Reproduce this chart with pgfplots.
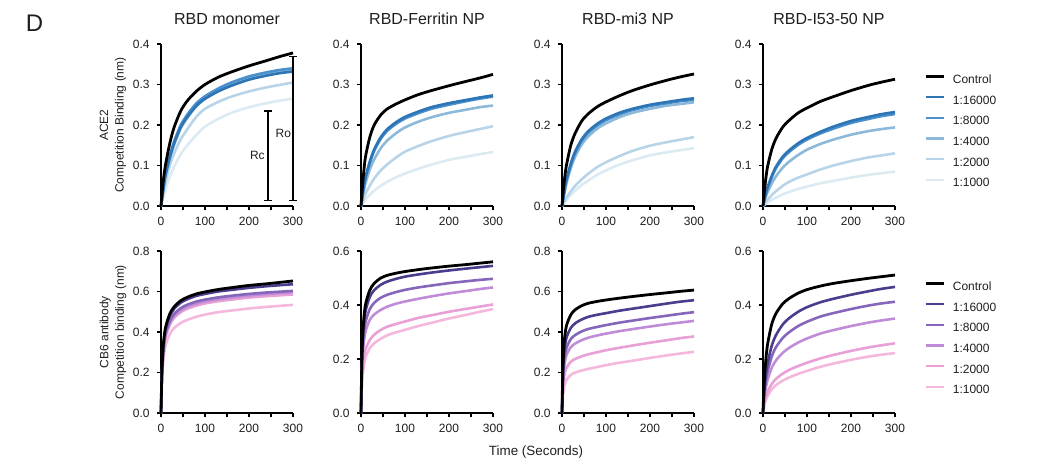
\documentclass[border=0pt]{standalone}
\usepackage{pgfplots}
\pgfplotsset{compat=1.18}
\usepackage{pgfplotstable}
\usepackage{fontspec}
\setmainfont{Liberation Sans}
\usetikzlibrary{arrows.meta}

\definecolor{bA}{RGB}{46,117,182}
\definecolor{bB}{RGB}{74,144,204}
\definecolor{bC}{RGB}{140,184,218}
\definecolor{bD}{RGB}{184,212,232}
\definecolor{bE}{RGB}{220,234,242}
\definecolor{pA}{RGB}{76,60,142}
\definecolor{pB}{RGB}{134,102,186}
\definecolor{pC}{RGB}{192,140,216}
\definecolor{pD}{RGB}{232,160,214}
\definecolor{pE}{RGB}{244,184,220}
\definecolor{txt}{RGB}{30,30,30}

% columns: c=Control a=1:16000 b=1:8000 d=1:4000 e=1:2000 f=1:1000
\pgfplotstableread{
t c a b d e f
0 0 0 0 0 0 0
2 0.025 0.016 0.017 0.015 0.012 0.008
5 0.060 0.040 0.042 0.038 0.030 0.020
10 0.100 0.075 0.078 0.072 0.058 0.040
20 0.155 0.120 0.124 0.117 0.100 0.072
30 0.195 0.155 0.160 0.152 0.130 0.098
45 0.235 0.195 0.200 0.192 0.165 0.128
60 0.260 0.220 0.226 0.218 0.190 0.150
80 0.283 0.247 0.253 0.246 0.220 0.175
100 0.300 0.265 0.271 0.264 0.240 0.196
130 0.318 0.283 0.290 0.284 0.257 0.215
160 0.331 0.297 0.305 0.299 0.270 0.230
200 0.346 0.312 0.320 0.315 0.283 0.244
240 0.359 0.322 0.330 0.326 0.293 0.254
270 0.369 0.328 0.336 0.332 0.299 0.260
300 0.378 0.332 0.340 0.336 0.305 0.265
}\tAa
\pgfplotstableread{
t c a b d e f
0 0 0 0 0 0 0
2 0.030 0.016 0.015 0.012 0.006 0.003
5 0.070 0.040 0.038 0.030 0.015 0.008
10 0.120 0.070 0.067 0.055 0.030 0.016
20 0.170 0.110 0.106 0.090 0.050 0.028
30 0.200 0.140 0.136 0.115 0.068 0.038
45 0.225 0.170 0.166 0.143 0.088 0.050
60 0.240 0.190 0.186 0.162 0.103 0.060
80 0.252 0.207 0.203 0.180 0.120 0.071
100 0.262 0.220 0.216 0.194 0.134 0.080
130 0.275 0.233 0.229 0.208 0.148 0.092
160 0.285 0.244 0.240 0.219 0.160 0.102
200 0.297 0.254 0.250 0.230 0.173 0.114
240 0.308 0.262 0.259 0.238 0.183 0.122
270 0.316 0.268 0.265 0.244 0.190 0.128
300 0.325 0.273 0.270 0.248 0.197 0.133
}\tAb
\pgfplotstableread{
t c a b d e f
0 0 0 0 0 0 0
2 0.025 0.014 0.013 0.011 0.004 0.003
5 0.060 0.035 0.033 0.028 0.010 0.007
10 0.100 0.065 0.062 0.055 0.020 0.015
20 0.150 0.105 0.101 0.093 0.036 0.027
30 0.180 0.135 0.131 0.122 0.050 0.038
45 0.210 0.165 0.161 0.152 0.066 0.052
60 0.228 0.185 0.181 0.172 0.080 0.063
80 0.245 0.203 0.199 0.191 0.096 0.077
100 0.257 0.216 0.212 0.204 0.108 0.088
130 0.272 0.230 0.226 0.219 0.123 0.102
160 0.285 0.240 0.237 0.230 0.136 0.113
200 0.299 0.250 0.247 0.240 0.149 0.125
240 0.311 0.257 0.254 0.248 0.158 0.133
270 0.319 0.262 0.259 0.252 0.164 0.138
300 0.326 0.266 0.262 0.256 0.170 0.143
}\tAc
\pgfplotstableread{
t c a b d e f
0 0 0 0 0 0 0
2 0.022 0.010 0.009 0.007 0.003 0.002
5 0.055 0.025 0.023 0.018 0.008 0.004
10 0.095 0.045 0.042 0.033 0.015 0.008
20 0.140 0.075 0.071 0.056 0.027 0.015
30 0.168 0.098 0.094 0.074 0.037 0.021
45 0.195 0.122 0.118 0.095 0.050 0.029
60 0.212 0.138 0.134 0.110 0.060 0.035
80 0.230 0.155 0.151 0.126 0.070 0.042
100 0.242 0.168 0.164 0.139 0.078 0.048
130 0.258 0.183 0.179 0.153 0.090 0.056
160 0.270 0.196 0.191 0.164 0.100 0.062
200 0.285 0.210 0.205 0.176 0.111 0.070
240 0.298 0.220 0.215 0.185 0.120 0.077
270 0.306 0.227 0.222 0.190 0.125 0.081
300 0.313 0.232 0.227 0.194 0.130 0.085
}\tAd
\pgfplotstableread{
t c a b d e f
0 0 0 0 0 0 0
2 0.200 0.190 0.180 0.175 0.170 0.150
5 0.330 0.320 0.300 0.290 0.280 0.250
10 0.420 0.410 0.390 0.380 0.370 0.330
20 0.490 0.480 0.455 0.445 0.435 0.390
30 0.525 0.515 0.490 0.480 0.470 0.420
45 0.555 0.545 0.518 0.508 0.498 0.445
60 0.572 0.562 0.535 0.525 0.515 0.460
80 0.588 0.578 0.550 0.540 0.530 0.475
100 0.598 0.588 0.560 0.551 0.541 0.486
130 0.610 0.600 0.571 0.562 0.552 0.498
160 0.619 0.608 0.579 0.570 0.560 0.506
200 0.630 0.618 0.588 0.580 0.570 0.516
240 0.638 0.626 0.595 0.587 0.577 0.524
270 0.645 0.631 0.599 0.592 0.581 0.529
300 0.652 0.636 0.603 0.596 0.585 0.534
}\tBa
\pgfplotstableread{
t c a b d e f
0 0 0 0 0 0 0
2 0.200 0.190 0.170 0.150 0.120 0.100
5 0.320 0.300 0.270 0.240 0.190 0.160
10 0.400 0.375 0.335 0.300 0.235 0.205
20 0.455 0.430 0.385 0.345 0.270 0.240
30 0.480 0.455 0.408 0.365 0.290 0.258
45 0.500 0.475 0.427 0.382 0.308 0.275
60 0.510 0.487 0.438 0.394 0.320 0.288
80 0.518 0.497 0.448 0.405 0.330 0.299
100 0.524 0.505 0.456 0.413 0.339 0.308
130 0.531 0.513 0.465 0.423 0.352 0.322
160 0.537 0.520 0.472 0.432 0.362 0.334
200 0.544 0.528 0.481 0.443 0.375 0.350
240 0.550 0.535 0.488 0.452 0.386 0.364
270 0.555 0.540 0.493 0.459 0.394 0.375
300 0.560 0.545 0.497 0.465 0.402 0.385
}\tBb
\pgfplotstableread{
t c a b d e f
0 0 0 0 0 0 0
2 0.220 0.190 0.160 0.140 0.110 0.080
5 0.350 0.300 0.260 0.230 0.180 0.130
10 0.430 0.370 0.320 0.285 0.222 0.163
20 0.485 0.420 0.365 0.325 0.253 0.188
30 0.510 0.443 0.385 0.343 0.267 0.200
45 0.530 0.462 0.403 0.360 0.280 0.210
60 0.542 0.475 0.415 0.372 0.290 0.218
80 0.551 0.485 0.425 0.383 0.300 0.227
100 0.558 0.493 0.434 0.392 0.310 0.236
130 0.567 0.505 0.446 0.404 0.322 0.248
160 0.575 0.515 0.456 0.414 0.333 0.258
200 0.585 0.528 0.469 0.427 0.347 0.272
240 0.594 0.541 0.481 0.439 0.360 0.285
270 0.601 0.550 0.490 0.447 0.370 0.294
300 0.607 0.557 0.498 0.455 0.378 0.302
}\tBc
\pgfplotstableread{
t c a b d e f
0 0 0 0 0 0 0
2 0.090 0.060 0.050 0.040 0.025 0.020
5 0.170 0.120 0.100 0.080 0.050 0.040
10 0.250 0.180 0.150 0.120 0.077 0.062
20 0.330 0.250 0.210 0.168 0.108 0.088
30 0.370 0.290 0.245 0.196 0.127 0.104
45 0.405 0.328 0.278 0.223 0.146 0.120
60 0.425 0.352 0.300 0.242 0.160 0.132
80 0.444 0.375 0.322 0.261 0.174 0.145
100 0.457 0.392 0.338 0.276 0.186 0.156
130 0.470 0.410 0.357 0.294 0.202 0.171
160 0.480 0.423 0.370 0.307 0.215 0.183
200 0.490 0.438 0.385 0.322 0.230 0.197
240 0.499 0.451 0.398 0.335 0.243 0.209
270 0.505 0.460 0.406 0.343 0.251 0.216
300 0.511 0.467 0.412 0.350 0.258 0.222
}\tBd

\pgfplotsset{
  panel/.style={
    scale only axis, width=66pt, height=81pt,
    xmin=0, xmax=300, ymin=0,
    axis lines*=left,
    axis line style={line width=1pt, black},
    xtick={0,100,200,300}, minor xtick={50,150,250},
    tick align=outside,
    major tick length=2.2pt, minor tick length=2.2pt,
    tick style={black, line width=0.75pt},
    tick label style={font=\fontsize{6}{7}\selectfont, text=txt},
    /pgf/number format/assume math mode=true,
    y tick label style={/pgf/number format/fixed, /pgf/number format/fixed zerofill, /pgf/number format/precision=1},
    scaled y ticks=false,
    clip=false,
    title style={font=\fontsize{8}{9}\selectfont, text=txt, yshift=0pt},
  },
  toprow/.style={panel, ymax=0.4, ytick={0,0.1,0.2,0.3,0.4}},
  botrow/.style={panel, ytick={0,0.2,0.4,0.6,0.8}},
  curve/.style={line width=1.3pt, smooth, tension=0.45, forget plot},
  lgd/.style={
    legend style={draw=none, fill=none, at={(1.22,0.815)}, anchor=north west,
      inner sep=0pt, font=\fontsize{6}{7}\selectfont, text=txt,
      row sep=4.35pt, column sep=4pt,
      nodes={inner sep=0pt, text height=4.5pt, text depth=1.5pt}},
    legend cell align=left,
    legend image code/.code={\draw[##1, line width=1.2pt] (0pt,2pt) -- (9pt,2pt);},
  },
}

\newcommand{\bluecurves}[1]{%
  \addplot[curve, bE] table[x=t,y=f]{#1};
  \addplot[curve, bD] table[x=t,y=e]{#1};
  \addplot[curve, bC] table[x=t,y=d]{#1};
  \addplot[curve, bB] table[x=t,y=b]{#1};
  \addplot[curve, bA] table[x=t,y=a]{#1};
  \addplot[curve, black, line width=1.4pt] table[x=t,y=c]{#1};
}
\newcommand{\purplecurves}[1]{%
  \addplot[curve, pE] table[x=t,y=f]{#1};
  \addplot[curve, pD] table[x=t,y=e]{#1};
  \addplot[curve, pC] table[x=t,y=d]{#1};
  \addplot[curve, pB] table[x=t,y=b]{#1};
  \addplot[curve, pA] table[x=t,y=a]{#1};
  \addplot[curve, black, line width=1.4pt] table[x=t,y=c]{#1};
}

\begin{document}
\begin{tikzpicture}
\path[use as bounding box] (0,0) rectangle (528.5pt,231pt);

% ---- top row (ACE2) ----
\begin{axis}[toprow, at={(80.5pt,128pt)}, anchor=south west, title={RBD monomer}]
  \bluecurves{\tAa}
  \addplot[black, line width=0.6pt, forget plot, arrows={Bar[width=4pt,line width=0.6pt]-Bar[width=4pt,line width=0.6pt]}] coordinates {(243,0.012) (243,0.236)};
  \addplot[black, line width=0.6pt, forget plot, arrows={Bar[width=4pt,line width=0.6pt]-Bar[width=4pt,line width=0.6pt]}] coordinates {(300,0.012) (300,0.370)};
  \node[font=\fontsize{6}{7}\selectfont, text=txt] at (axis cs:219,0.124) {Rc};
  \node[font=\fontsize{6}{7}\selectfont, text=txt] at (axis cs:278,0.180) {Ro};
\end{axis}
\begin{axis}[toprow, at={(180.5pt,128pt)}, anchor=south west, title={RBD-Ferritin NP}]
  \bluecurves{\tAb}
\end{axis}
\begin{axis}[toprow, at={(281pt,128pt)}, anchor=south west, title={RBD-mi3 NP}]
  \bluecurves{\tAc}
\end{axis}
\begin{axis}[toprow, lgd, at={(381.5pt,128pt)}, anchor=south west, title={RBD-I53-50 NP}]
  \addlegendimage{black}\addlegendentry{Control}
  \addlegendimage{bA}\addlegendentry{1:16000}
  \addlegendimage{bB}\addlegendentry{1:8000}
  \addlegendimage{bC}\addlegendentry{1:4000}
  \addlegendimage{bD}\addlegendentry{1:2000}
  \addlegendimage{bE}\addlegendentry{1:1000}
  \bluecurves{\tAd}
\end{axis}

% ---- bottom row (CB6) ----
\begin{axis}[botrow, ymax=0.8, at={(80.5pt,24.5pt)}, anchor=south west]
  \purplecurves{\tBa}
\end{axis}
\begin{axis}[botrow, ymax=0.6, at={(180.5pt,24.5pt)}, anchor=south west]
  \purplecurves{\tBb}
\end{axis}
\begin{axis}[botrow, ymax=0.8, at={(281pt,24.5pt)}, anchor=south west]
  \purplecurves{\tBc}
\end{axis}
\begin{axis}[botrow, lgd, ymax=0.6, at={(381.5pt,24.5pt)}, anchor=south west]
  \addlegendimage{black}\addlegendentry{Control}
  \addlegendimage{pA}\addlegendentry{1:16000}
  \addlegendimage{pB}\addlegendentry{1:8000}
  \addlegendimage{pC}\addlegendentry{1:4000}
  \addlegendimage{pD}\addlegendentry{1:2000}
  \addlegendimage{pE}\addlegendentry{1:1000}
  \purplecurves{\tBd}
\end{axis}

% ---- labels ----
\node[font=\fontsize{12}{14}\selectfont, text=txt] at (17.3pt,219.3pt) {D};
\node[rotate=90, align=center, font=\fontsize{6}{7.75}\selectfont, text=txt] at (56.5pt,168.5pt) {ACE2\\Competition Binding (nm)};
\node[rotate=90, align=center, font=\fontsize{6}{7.75}\selectfont, text=txt] at (56.5pt,65pt) {CB6 antibody\\Competition binding (nm)};
\node[font=\fontsize{6.7}{8}\selectfont, text=txt] at (268pt,5pt) {Time (Seconds)};
\end{tikzpicture}
\end{document}
